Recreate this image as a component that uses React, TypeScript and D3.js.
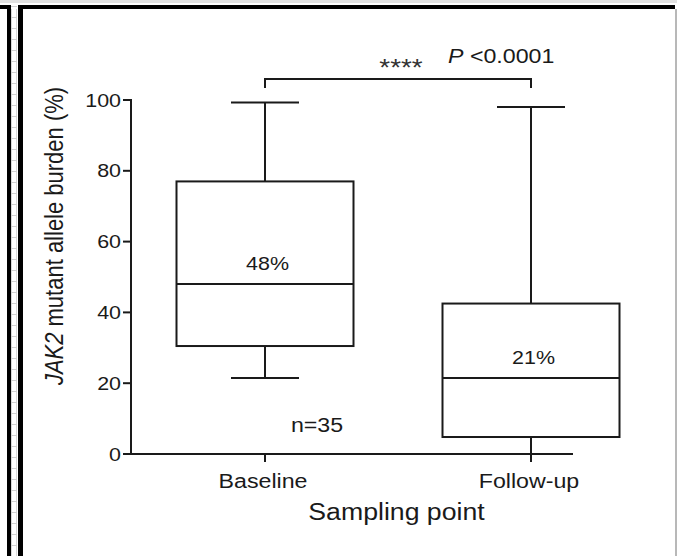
import React from "react";
import * as d3 from "d3";

const categories = ["Baseline", "Follow-up"];
const whiskerLow = [21.5, 0];
const q1 = [30.5, 4.8];
const median = [48, 21.5];
const q3 = [77, 42.5];
const whiskerHigh = [99.3, 98];
const medianLabels = ["48%", "21%"];
const yTicks = [0, 20, 40, 60, 80, 100];

const W = 677;
const H = 556;
const SX = 1.16;
const FONT = "'Liberation Sans', Arial, Helvetica, sans-serif";
const INK = "#1a1a1a";

function T({ x, y, size, anchor = "middle", children, rotate = false, style = {} }: any) {
  const tr = `translate(${x},${y}) scale(${SX},1)` + (rotate ? " rotate(-90)" : "");
  return (
    <text transform={tr} fontSize={size} textAnchor={anchor} fontFamily={FONT} fill={INK} style={style}>
      {children}
    </text>
  );
}

export default function App() {
  const y = d3.scaleLinear().domain([0, 100]).range([454, 100]);
  const x = d3.scalePoint<string>().domain(categories).range([265, 531]);
  const axisLeft = 131;
  const axisRight = 573;
  const boxHalf = 88.5;
  const capHalf = 34;
  const sw = 2;

  const rungs = d3.range(6, H, 11);

  return (
    <svg width={W} height={H} style={{ position: "absolute", left: 0, top: 0, background: "#fff" }}>
      {/* panel frame decorations */}
      <rect x={0} y={0} width={W} height={3} fill="#e2e2e2" />
      <rect x={0} y={5} width={10} height={4} fill="#000" />
      <rect x={7} y={5} width={4} height={H} fill="#000" />
      <line x1={11.5} y1={9} x2={11.5} y2={H} stroke="#d8d8d8" strokeWidth={1} />
      <line x1={16.5} y1={9} x2={16.5} y2={H} stroke="#d8d8d8" strokeWidth={1} />
      {rungs.map((r, i) => (
        <line key={i} x1={11} y1={r + 0.5} x2={17} y2={r + 0.5} stroke="#d0d0d0" strokeWidth={1} />
      ))}
      <rect x={18} y={5} width={5} height={H} fill="#000" />
      <rect x={18} y={5} width={657} height={4} fill="#000" />
      <rect x={675} y={9} width={2} height={H} fill="#b8b8b8" />

      {/* axes */}
      <line x1={axisLeft} y1={y(0)} x2={axisRight} y2={y(0)} stroke={INK} strokeWidth={sw} />
      <line x1={axisLeft} y1={y(0) + 1} x2={axisLeft} y2={y(100) - 1} stroke={INK} strokeWidth={sw} />
      {yTicks.map((t) => (
        <g key={t}>
          <line x1={axisLeft - 8} y1={y(t)} x2={axisLeft} y2={y(t)} stroke={INK} strokeWidth={sw} />
          <T x={121} y={y(t) + 6.5} size={18.5} anchor="end">{t}</T>
        </g>
      ))}
      {categories.map((c) => (
        <g key={c}>
          <line x1={x(c)} y1={y(0)} x2={x(c)} y2={y(0) + 8} stroke={INK} strokeWidth={sw} />
          <T x={(x(c) as number) - 2} y={488} size={20}>{c}</T>
        </g>
      ))}
      <T x={396.5} y={520} size={23}>Sampling point</T>
      <T x={63} y={236} size={22} rotate>
        <tspan fontStyle="italic">JAK2</tspan> mutant allele burden (%)
      </T>

      {/* boxes */}
      {categories.map((c, i) => {
        const cx = x(c) as number;
        return (
          <g key={c} stroke={INK} strokeWidth={sw} fill="none">
            <line x1={cx} y1={y(whiskerHigh[i])} x2={cx} y2={y(q3[i])} />
            <line x1={cx} y1={y(q1[i])} x2={cx} y2={y(whiskerLow[i])} />
            <line x1={cx - capHalf} y1={y(whiskerHigh[i])} x2={cx + capHalf} y2={y(whiskerHigh[i])} />
            <line x1={cx - capHalf} y1={y(whiskerLow[i])} x2={cx + capHalf} y2={y(whiskerLow[i])} />
            <rect x={cx - boxHalf} y={y(q3[i])} width={boxHalf * 2} height={y(q1[i]) - y(q3[i])} />
            <line x1={cx - boxHalf} y1={y(median[i])} x2={cx + boxHalf} y2={y(median[i])} />
          </g>
        );
      })}
      {categories.map((c, i) => (
        <T key={c} x={(x(c) as number) + 2.5} y={y(median[i]) - 14} size={18.5}>{medianLabels[i]}</T>
      ))}
      <T x={317} y={432} size={20}>n=35</T>

      {/* significance bracket */}
      <path
        d={`M${x(categories[0])},88 V79 H${x(categories[1])} V88`}
        fill="none"
        stroke={INK}
        strokeWidth={sw}
      />
      <T x={401} y={76} size={24} style={{ fill: "#333" }}>****</T>
      <T x={448} y={63} size={20} anchor="start">
        <tspan fontStyle="italic">P</tspan> &lt;0.0001
      </T>
    </svg>
  );
}
